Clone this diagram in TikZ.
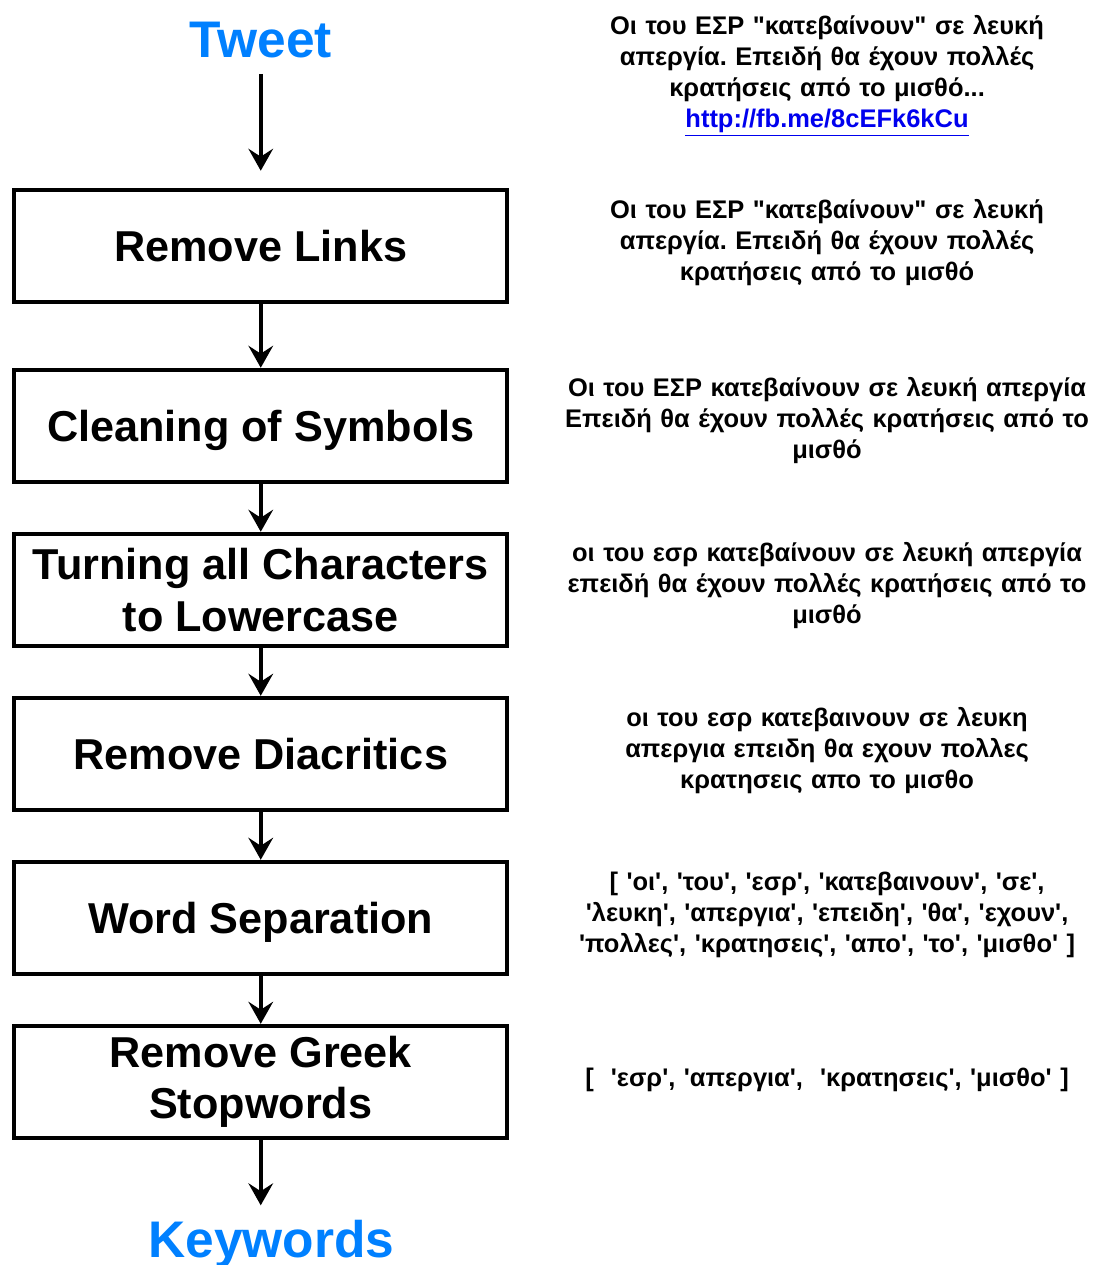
\documentclass[tikz,border=0pt]{standalone}
\usepackage{fontspec}
\newfontfamily\arialfont{Liberation Sans}
\usetikzlibrary{arrows.meta, positioning}
\definecolor{tweetblue}{RGB}{0,128,255}
\definecolor{linkblue}{RGB}{0,0,238}
\frenchspacing

\begin{document}
\begin{tikzpicture}[x=0.02cm, y=-0.02cm,
        stage/.style={rectangle, draw=black, line width=2.3pt, fill=white,
                      minimum width=9.86cm, minimum height=2.24cm, align=center,
                      font=\arialfont\bfseries\fontsize{24.6}{29.5}\selectfont},
        io/.style={inner sep=0pt, text=tweetblue,
                   font=\arialfont\bfseries\fontsize{29.3}{34}\selectfont},
        note/.style={inner sep=0pt, text width=11.4cm, align=center,
                     font=\arialfont\bfseries\fontsize{14.5}{17.6}\selectfont},
        flow/.style={-{Stealth[length=12.5pt, width=14pt, inset=4.5pt]}, line width=2pt},
        node distance=0.96cm]
      \useasboundingbox (0,0) rectangle (1097,1265);
      % processing stages
      \node[stage] (l1) at (260.75,245.75) {Remove Links};
      \node[stage, text depth=0pt, below=1.28cm of l1] (l2) {Cleaning of Symbols};
      \node[stage, below=of l2] (l3) {Turning all Characters\\ to Lowercase};
      \node[stage, below=of l3] (l4) {Remove Diacritics};
      \node[stage, text depth=0pt, below=of l4] (l5) {Word Separation};
      \node[stage, below=of l5] (l6) {Remove Greek\\ Stopwords};
      \node[io, above=2.58cm of l1] (tweet) {Tweet};
      \node[io, below=1.61cm of l6, xshift=0.21cm] (kw) {Keywords};
      \draw[flow, shorten <=0.3cm, shorten >=0.34cm] (tweet) -- (l1);
      \foreach \a/\b in {l1/l2, l2/l3, l3/l4, l4/l5, l5/l6}
        \draw[flow] (\a) -- (\b);
      \draw[flow, shorten >=0.3cm] (l6) -- (l6 |- kw.north);
      % the text after each stage
      \node[note, right=0.65cm of l1, yshift=0.07cm] (t1) {Οι του ΕΣΡ "κατεβαίνουν" σε λευκή\\
            απεργία. Επειδή θα έχουν πολλές\\ κρατήσεις από το μισθό};
      \node[note, above=1.25cm of t1] (t0) {Οι του ΕΣΡ "κατεβαίνουν" σε λευκή\\
            απεργία. Επειδή θα έχουν πολλές\\ κρατήσεις από το μισθό...\\
            {\color{linkblue}\underline{http://fb.me/8cEFk6kCu}}};
      \node[note, right=0.65cm of l2, yshift=0.11cm] (t2) {Οι του ΕΣΡ κατεβαίνουν σε λευκή απεργία\\
            Επειδή θα έχουν πολλές κρατήσεις από το\\ μισθό};
      \node[note, right=0.65cm of l3, yshift=0.09cm] (t3) {οι του εσρ κατεβαίνουν σε λευκή απεργία\\
            επειδή θα έχουν πολλές κρατήσεις από το\\ μισθό};
      \node[note, right=0.65cm of l4, yshift=0.07cm] (t4) {οι του εσρ κατεβαινουν σε λευκη\\
            απεργια επειδη θα εχουν πολλες\\ κρατησεις απο το μισθο};
      \node[note, right=0.65cm of l5, yshift=0.06cm] (t5) {[ 'οι', 'του', 'εσρ', 'κατεβαινουν', 'σε',\\
            'λευκη', 'απεργια', 'επειδη', 'θα', 'εχουν',\\
            'πολλες', 'κρατησεις', 'απο', 'το', 'μισθο' ]};
      \node[note, right=0.65cm of l6, yshift=0.04cm] (t6) {[\ \ 'εσρ', 'απεργια',\ \ 'κρατησεις', 'μισθο' ]};
    \end{tikzpicture}
\end{document}
